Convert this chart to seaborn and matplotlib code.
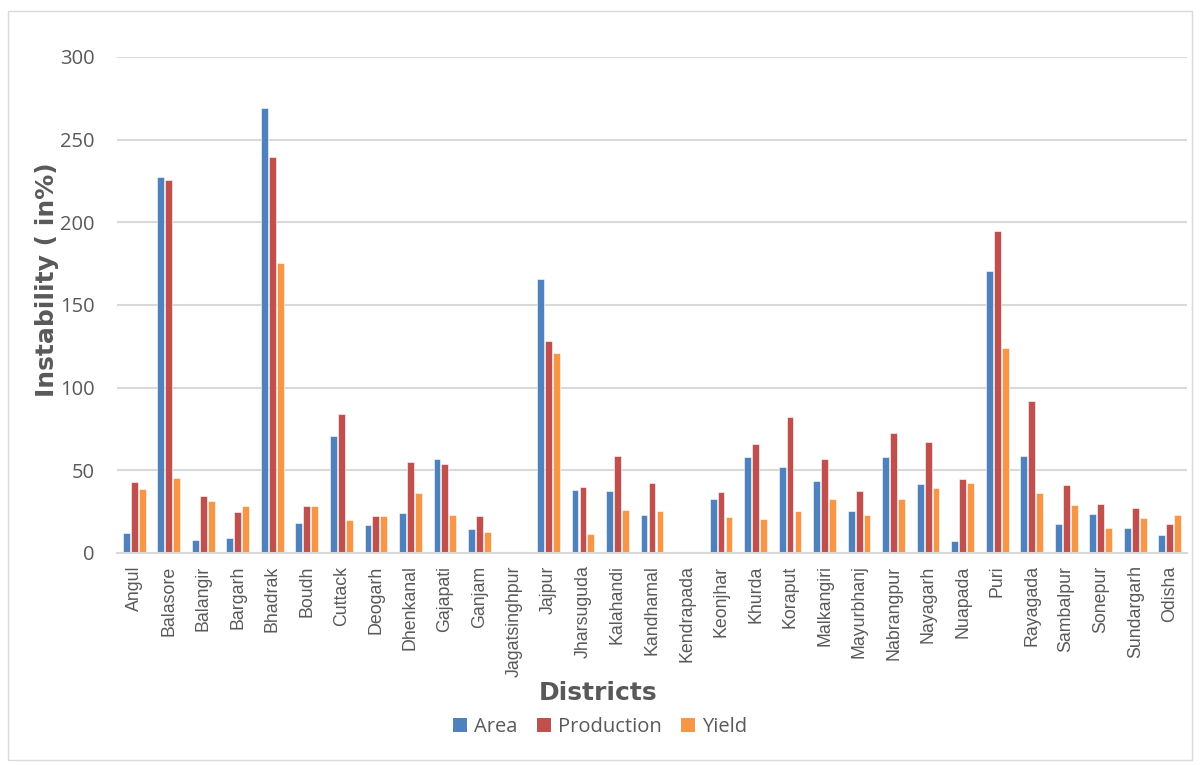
import matplotlib
matplotlib.use("Agg")
import matplotlib.pyplot as plt
import seaborn as sns
import pandas as pd
from matplotlib.patches import Rectangle, Patch

districts = ["Angul", "Balasore", "Balangir", "Bargarh", "Bhadrak", "Boudh", "Cuttack",
             "Deogarh", "Dhenkanal", "Gajapati", "Ganjam", "Jagatsinghpur", "Jajpur",
             "Jharsuguda", "Kalahandi", "Kandhamal", "Kendrapada", "Keonjhar", "Khurda",
             "Koraput", "Malkangiri", "Mayurbhanj", "Nabrangpur", "Nayagarh", "Nuapada",
             "Puri", "Rayagada", "Sambalpur", "Sonepur", "Sundargarh", "Odisha"]
area = [12.1, 227.6, 7.9, 9.3, 269.2, 17.9, 70.6, 17.1, 24.2, 56.9, 14.3, 0,
        166.0, 38.3, 37.7, 23.2, 0, 32.9, 58.1, 52.2, 43.8, 25.6, 58.3, 41.9,
        7.3, 170.4, 58.7, 17.7, 23.6, 14.9, 11.1]
production = [43.1, 225.6, 34.7, 25.0, 239.5, 28.6, 84.1, 22.2, 55.0, 54.0, 22.6, 0,
              128.5, 39.9, 58.5, 42.3, 0, 36.9, 66.1, 82.5, 56.9, 37.7, 72.8, 66.9,
              44.8, 194.8, 91.9, 41.1, 29.4, 27.2, 17.7]
yield_ = [38.7, 45.4, 31.5, 28.4, 175.4, 28.6, 20.0, 22.6, 36.5, 23.2, 12.7, 0,
          121.2, 11.7, 26.0, 25.6, 0, 22.0, 20.4, 25.2, 32.9, 23.0, 32.9, 39.1,
          42.3, 123.8, 36.1, 28.8, 14.9, 21.2, 23.2]
series = ["Area", "Production", "Yield"]
colors = ["#4F81BD", "#C0504D", "#F79646"]
yticks = [0, 50, 100, 150, 200, 250, 300]

df = pd.DataFrame({
    "District": districts * 3,
    "Series": [s for s in series for _ in districts],
    "Value": area + production + yield_,
})

sns.set_theme(style="white")
plt.rcParams["font.family"] = ["DejaVu Sans"]

fig = plt.figure(figsize=(12, 7.65), dpi=100)
ax = fig.add_axes([117/1200, 1-553/765, (1187-117)/1200, (553-57)/765])

sns.barplot(data=df, x="District", y="Value", hue="Series", hue_order=series,
            palette=colors, saturation=1, width=0.69, gap=0.14, edgecolor="white",
            linewidth=0.4, ax=ax, legend=False)

ax.set_ylim(0, 300)
ax.set_xlim(-0.5, len(districts) - 0.5)
ax.set_yticks(yticks)
ax.set_yticklabels([str(t) for t in yticks], fontsize=14.5, color="#595959",
                   family=["Open Sans", "DejaVu Sans"])
ax.yaxis.grid(True, color="#D9D9D9", linewidth=1.5)
ax.set_axisbelow(True)
ax.tick_params(axis="both", length=0)
ax.tick_params(axis="y", pad=16)
ax.tick_params(axis="x", pad=9)
ax.set_xticks(range(len(districts)))
ax.set_xticklabels(districts, rotation=90, fontsize=12.8, color="#595959",
                   family=["Liberation Sans", "DejaVu Sans"])
for s in ["top", "right", "left"]:
    ax.spines[s].set_visible(False)
ax.spines["bottom"].set_color("#D9D9D9")
ax.spines["bottom"].set_linewidth(1.5)
ax.set_xlabel("")
ax.set_ylabel("")

fig.text(47/1200, 1-280/765, "Instability ( in%)", rotation=90, ha="center", va="center",
         fontsize=18, fontweight="heavy", color="#595959")
fig.text(598/1200, 1-693/765, "Districts", ha="center", va="center",
         fontsize=18, fontweight="heavy", color="#595959")

handles = [Patch(facecolor=c, edgecolor="none") for c in colors]
fig.legend(handles, series, loc="center", bbox_to_anchor=(600/1200, 1-727/765), ncol=3,
           frameon=False, handlelength=0.7, handleheight=0.7, handletextpad=0.35,
           columnspacing=0.95, prop={"family": ["Open Sans", "DejaVu Sans"], "size": 14.5},
           labelcolor="#595959")

fig.patches.append(Rectangle((8/1200, 1-760/765), 1184/1200, 749/765, transform=fig.transFigure,
                             fill=False, edgecolor="#D9D9D9", linewidth=1))

fig.savefig("out.png", dpi=100)
